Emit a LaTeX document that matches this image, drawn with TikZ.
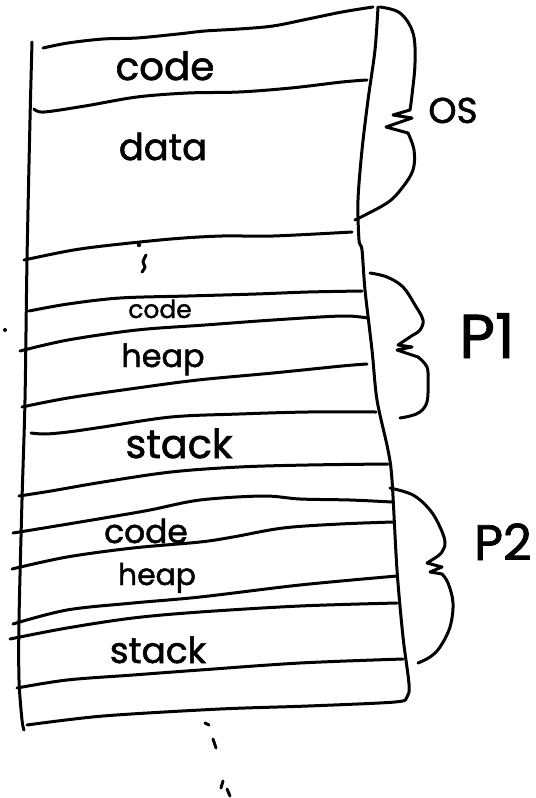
\documentclass[tikz,border=0pt]{standalone}
\usepackage{fontspec}
\setmainfont{Poppins}[FakeBold=1.5]
\newfontfamily\handfont{Poppins}[FakeBold=1.5]
\begin{document}
\begin{tikzpicture}[x=1bp,y=-1bp,
  ink/.style={line width=3bp, line cap=round, line join=round},
  wavy/.style={ink, smooth, tension=0.55},
  word/.style={font=\handfont\fontsize{#1}{#1}\selectfont, inner sep=0pt, anchor=base}]
\useasboundingbox (0,0) rectangle (536,798);

% outer walls of the memory column
\draw[ink] plot[smooth, tension=0.5] coordinates {(32,42) (30,120) (27,260) (25,400) (22,500) (19,620) (19,680) (22,720) (24,730)};
\draw[ink] plot[smooth, tension=0.5] coordinates {(378,7) (375,50) (368,100) (362,150) (358,200) (359,240) (362,250) (365,290) (372,350) (377,400) (388,450) (392,480) (397,570) (403,637) (409,684) (407,697) (395,702) (308,706) (220,709) (103,716) (27,725)};

% region separators
\draw[ink] plot[wavy] coordinates {(43,48) (68,43) (103,39) (137,38) (178,34) (205,31) (239,29) (273,26) (308,19) (342,12) (373,7)};
\draw[ink] plot[wavy] coordinates {(34,109) (44,112) (85,106) (137,97) (188,93) (239,92) (291,88) (342,82) (367,80)};
\draw[ink] plot[wavy] coordinates {(24,260) (68,251) (103,246) (171,239) (222,236) (273,236) (352,232)};
\draw[ink] plot[wavy] coordinates {(29,311) (68,304) (120,298) (188,296) (256,294) (308,292) (362,291)};
\draw[ink] plot[wavy] coordinates {(20,351) (68,340) (137,330) (205,325) (273,320) (342,316) (367,318)};
\draw[ink] plot[wavy] coordinates {(22,407) (68,398) (137,388) (198,380) (273,373) (342,366) (367,364)};
\draw[ink] plot[wavy] coordinates {(31,433) (45,434) (68,432) (103,427) (171,417) (239,414) (308,412) (376,412)};
\draw[ink] plot[wavy] coordinates {(19,496) (51,491) (103,482) (171,472) (239,467) (308,465) (388,464)};
\draw[ink] plot[wavy] coordinates {(13,533) (50,527) (110,517) (150,510) (200,500) (263,496) (300,499) (350,500) (392,502)};
\draw[ink] plot[wavy] coordinates {(12,569) (67,557) (133,548) (200,542) (233,537) (283,528) (340,524) (393,522)};
\draw[ink] plot[wavy] coordinates {(13,624) (67,610) (133,603) (200,597) (300,585) (397,576)};
\draw[ink] plot[wavy] coordinates {(10,639) (67,628) (133,618) (200,612) (300,606) (397,603)};
\draw[ink] plot[wavy] coordinates {(17,688) (67,680) (133,675) (200,670) (300,663) (403,659)};

% braces
\draw[ink] plot[smooth, tension=0.6] coordinates {(380,7) (400,13) (413,33) (415,63) (412,95) (410,110)} -- (393,115) -- (412,118) -- (386,127) -- (408,133);
\draw[ink] plot[smooth, tension=0.6] coordinates {(408,133) (414,150) (413,170) (402,188) (387,203) (355,220)};

\draw[ink] plot[smooth, tension=0.6] coordinates {(370,273) (387,277) (403,287) (415,305) (423,320) (420,330) (413,335)} -- (398,345) -- (412,347) -- (397,350) -- (418,357);
\draw[ink] plot[smooth, tension=0.6] coordinates {(418,357) (427,367) (428,383) (427,402) (420,412) (410,416) (400,418)};

\draw[ink] plot[smooth, tension=0.6] coordinates {(390,488) (413,495) (430,510) (440,527) (445,542) (442,552) (435,558)} -- (427,563) -- (442,567) -- (430,572) -- (442,574);
\draw[ink] plot[smooth, tension=0.6] coordinates {(442,574) (448,583) (453,603) (450,627) (440,647) (430,657) (418,663)};

% labels inside the regions
\node[word=39] (oscode) at (165,80) {code};
\node[word=37] (osdata) at (163,160) {data};
\node[word=25] (pacode) at (160,318) {code};
\node[word=32] (paheap) at (163,367) {heap};
\node[word=40] (pastack) at (179,458) {stack};
\node[word=33] (pbcode) at (146,543) {code};
\node[word=30] (pbheap) at (157,585) {heap};
\node[word=36] (pbstack) at (158,663) {stack};

% brace labels
\node[word=36] (oslabel) at (453,123) {OS};
\node[word=62] (palabel) at (487,358) {P1};
\node[word=50, anchor=base west] (pblabel) at (474,560) {P2};

% ellipsis marks
\fill (139,245) circle (2.2);
\draw[ink] plot[smooth] coordinates {(146,255) (143,262) (145,267) (142,272)};
\fill (5,330) circle (2);
\draw[ink] (205,723) -- (209,725);
\draw[ink] (213,739) -- (216,748);
\draw[ink] (223,781) -- (221,788);
\draw[ink] (227,789) -- (230,796);
\end{tikzpicture}
\end{document}
